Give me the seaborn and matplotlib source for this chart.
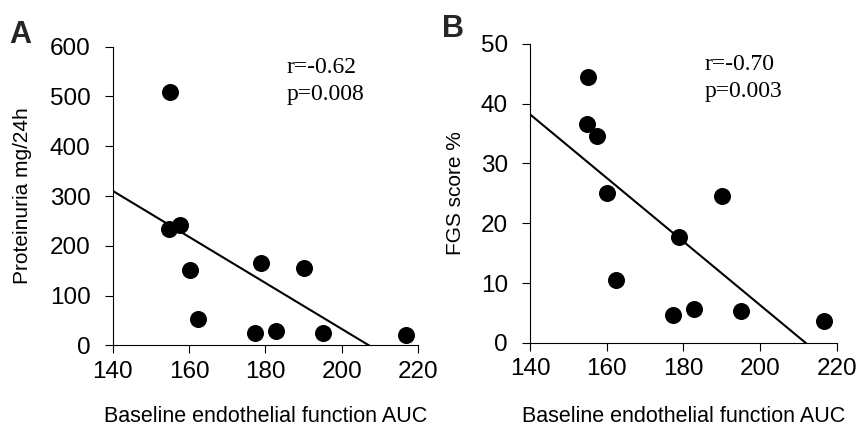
import matplotlib
matplotlib.use("Agg")
import matplotlib.pyplot as plt
import seaborn as sns

# Baseline endothelial function (AUC) per patient, shared by both panels
baseline_auc = [155.0, 154.8, 157.6, 160.2, 162.4, 178.9, 177.3, 182.8, 190.1, 195.0, 216.8]
# Panel A: proteinuria (mg/24h)
proteinuria = [508, 234, 241, 151, 53, 165, 24, 29, 155, 25, 20]
# Panel B: FGS score (%)
fgs_score = [44.5, 36.5, 34.5, 25.1, 10.6, 17.7, 4.6, 5.6, 24.5, 5.3, 3.7]

x_ticks = [140, 160, 180, 200, 220]
proteinuria_ticks = [0, 100, 200, 300, 400, 500, 600]
fgs_ticks = [0, 10, 20, 30, 40, 50]

stats_a = ["r=-0.62", "p=0.008"]
stats_b = ["r=-0.70", "p=0.003"]

x_label = "Baseline endothelial function AUC"

sns.set_style("ticks")
plt.rcParams["font.family"] = ["Liberation Sans", "DejaVu Sans"]

fig = plt.figure(figsize=(8.59, 4.28), dpi=100)
ax_a = fig.add_axes([0.1312, 0.1932, 0.3557, 0.6977])
ax_b = fig.add_axes([0.617, 0.1986, 0.357, 0.6994])


def draw_panel(ax, values, yticks, ylabel, stats, ylabel_x, xlabel_y):
    ax.set_xlim(x_ticks[0], x_ticks[-1])
    ax.set_ylim(yticks[0], yticks[-1])
    sns.regplot(
        x=baseline_auc, y=values, ax=ax, ci=None, truncate=False,
        scatter_kws=dict(s=150, color="black", linewidths=0, clip_on=False, alpha=1),
        line_kws=dict(color="black", lw=1.5),
    )
    ax.set_xlim(x_ticks[0], x_ticks[-1])
    ax.set_ylim(yticks[0], yticks[-1])
    ax.set_xticks(x_ticks)
    ax.set_yticks(yticks)
    sns.despine(ax=ax)
    for side in ("left", "bottom"):
        ax.spines[side].set_linewidth(0.8)
        ax.spines[side].set_color("black")
    ax.tick_params(axis="both", direction="out", length=6, width=0.8,
                   color="black", labelcolor="black", labelsize=17.5)
    ax.tick_params(axis="x", pad=5)
    ax.tick_params(axis="y", pad=10)
    ax.set_xlabel(x_label, fontsize=15.5, color="black")
    ax.set_ylabel(ylabel, fontsize=15, color="black")
    ax.xaxis.set_label_coords(0.5, xlabel_y)
    ax.yaxis.set_label_coords(ylabel_x, 0.5)
    ax.text(0.57, 0.913, stats[0], transform=ax.transAxes, va="baseline",
            ha="left", fontsize=17, family=["Liberation Serif"], color="black")
    ax.text(0.57, 0.822, stats[1], transform=ax.transAxes, va="baseline",
            ha="left", fontsize=17, family=["Liberation Serif"], color="black")


draw_panel(ax_a, proteinuria, proteinuria_ticks, "Proteinuria mg/24h", stats_a, -0.265, -0.203)
draw_panel(ax_b, fgs_score, fgs_ticks, "FGS score %", stats_b, -0.212, -0.211)

fig.text(0.0105, 0.8988, "A", fontsize=22, fontweight="bold", va="baseline", ha="left")
fig.text(0.5146, 0.9128, "B", fontsize=22, fontweight="bold", va="baseline", ha="left")

fig.savefig("out.png", dpi=100)
